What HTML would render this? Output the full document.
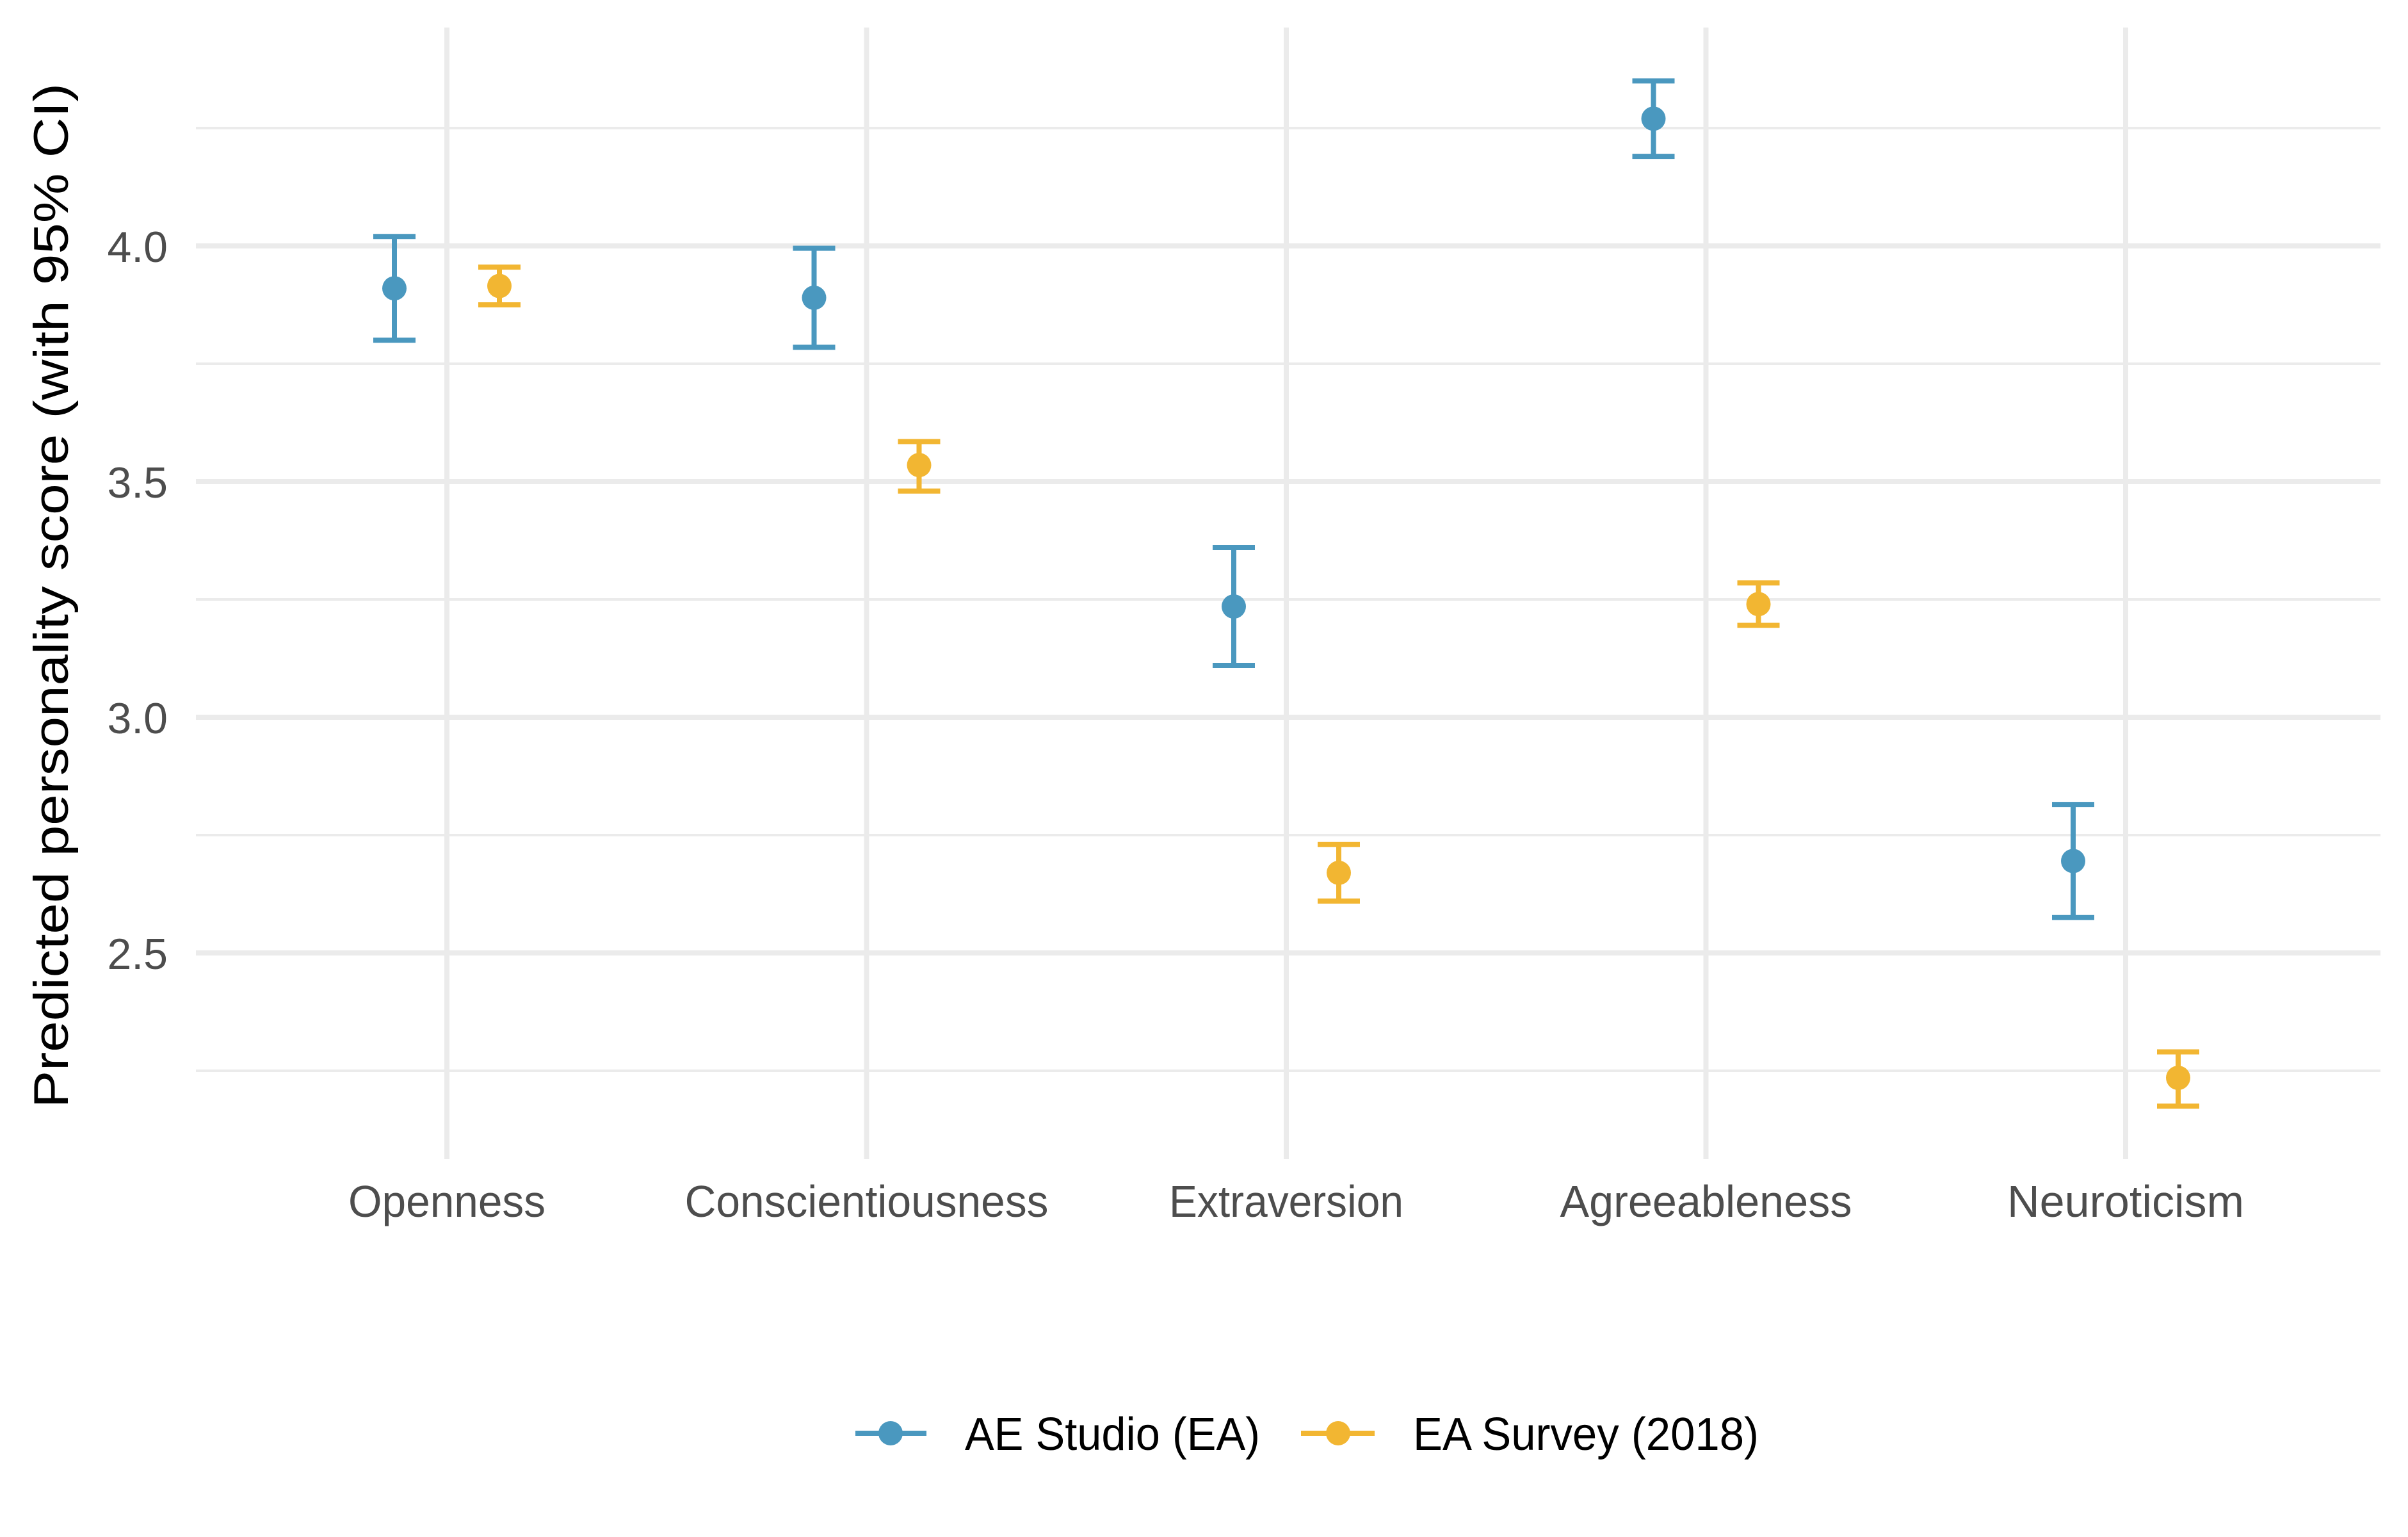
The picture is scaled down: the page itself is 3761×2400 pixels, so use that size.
<!DOCTYPE html>
<html><head><meta charset="utf-8"><style>
html,body{margin:0;padding:0;background:#fff;}
svg{display:block;font-family:"Liberation Sans",sans-serif;}
</style></head><body>
<svg id="chart" width="3761" height="2400" viewBox="0 0 3761 2400" xmlns="http://www.w3.org/2000/svg">
<g id="grid"></g>
<g id="marks"></g>
<g id="axes"></g>
<text transform="translate(106,930) rotate(-90)" text-anchor="middle" font-size="76" fill="#000" textLength="1600" lengthAdjust="spacingAndGlyphs">Predicted personality score (with 95% CI)</text>
<g>
  <g>
    <line x1="1336" x2="1447" y1="2238" y2="2238" stroke="#4a98bf" stroke-width="8"/>
    <circle cx="1391" cy="2238" r="19" fill="#4a98bf"/>
    <text x="1507" y="2264" font-size="72" fill="#000" textLength="461" lengthAdjust="spacingAndGlyphs">AE Studio (EA)</text>
  </g>
  <g>
    <line x1="2032" x2="2147" y1="2238" y2="2238" stroke="#f2b632" stroke-width="8"/>
    <circle cx="2090" cy="2238" r="19" fill="#f2b632"/>
    <text x="2207" y="2264" font-size="72" fill="#000" textLength="540" lengthAdjust="spacingAndGlyphs">EA Survey (2018)</text>
  </g>
</g>
</svg>
<script>
const categories = ["Openness","Conscientiousness","Extraversion","Agreeableness","Neuroticism"];
const aeMean = [3.91, 3.89, 3.235, 4.27, 2.695];
const aeLow  = [3.80, 3.785, 3.11, 4.19, 2.575];
const aeHigh = [4.02, 3.995, 3.36, 4.35, 2.815];
const eaMean = [3.915, 3.535, 2.67, 3.24, 2.235];
const eaLow  = [3.875, 3.48, 2.61, 3.195, 2.175];
const eaHigh = [3.955, 3.585, 2.73, 3.285, 2.29];
const majorTicks = [2.5, 3.0, 3.5, 4.0];
const majorLabels = ["2.5","3.0","3.5","4.0"];
const minorTicks = [2.25, 2.75, 3.25, 3.75, 4.25];
const labelWidths = [308, 568, 366, 456, 370];

const NS = "http://www.w3.org/2000/svg";
const plotL = 306, plotR = 3718, plotT = 43, plotB = 1810;
function y(v){ return 384 - (v - 4.0) * 736; }
function x(i){ return 698 + i * 655.5; }
const dodge = 82;
function mk(tag, attrs, parent){
  const e = document.createElementNS(NS, tag);
  for (const k in attrs) e.setAttribute(k, attrs[k]);
  parent.appendChild(e); return e;
}
const grid = document.getElementById('grid');
const marks = document.getElementById('marks');
const axes = document.getElementById('axes');
minorTicks.forEach(v => {
  const l = mk('line', {x1:plotL, x2:plotR, y1:y(v), y2:y(v), stroke:'#ebebeb', 'stroke-width':4}, grid);
  
  
});
majorTicks.forEach((v, i) => {
  const l = mk('line', {x1:plotL, x2:plotR, y1:y(v), y2:y(v), stroke:'#ebebeb', 'stroke-width':8}, grid);
  
  
  const t = mk('text', {x:262, y:y(v)+25, 'text-anchor':'end', 'font-size':68, fill:'#4d4d4d'}, axes);
  t.textContent = majorLabels[i];
  
  
});
categories.forEach((c, i) => {
  const l = mk('line', {x1:x(i), x2:x(i), y1:plotT, y2:plotB, stroke:'#ebebeb', 'stroke-width':8}, grid);
  
  
  const t = mk('text', {x:x(i), y:1900, 'text-anchor':'middle', 'font-size':70, fill:'#4d4d4d', textLength:labelWidths[i], lengthAdjust:'spacingAndGlyphs'}, axes);
  t.textContent = c;
  
  
});
function series(mean, lo, hi, off, color, name){
  mean.forEach((m, i) => {
    const cx = x(i) + off;
    const g = mk('g', {}, marks);
    
    
    mk('line', {x1:cx, x2:cx, y1:y(hi[i]), y2:y(lo[i]), stroke:color, 'stroke-width':8}, g);
    mk('line', {x1:cx-33, x2:cx+33, y1:y(hi[i]), y2:y(hi[i]), stroke:color, 'stroke-width':8}, g);
    mk('line', {x1:cx-33, x2:cx+33, y1:y(lo[i]), y2:y(lo[i]), stroke:color, 'stroke-width':8}, g);
    mk('circle', {cx:cx, cy:y(m), r:19, fill:color}, g);
  });
}
series(aeMean, aeLow, aeHigh, -dodge, '#4a98bf', 'ae-point');
series(eaMean, eaLow, eaHigh, dodge, '#f2b632', 'ea-point');
</script>
</body></html>
